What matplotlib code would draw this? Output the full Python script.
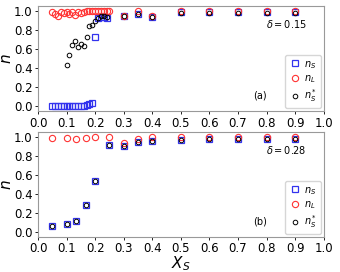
import numpy as np
import matplotlib.pyplot as plt

# panel (a), delta = 0.15
xa_s = [0.05, 0.06, 0.07, 0.08, 0.09, 0.10, 0.11, 0.12, 0.13, 0.14, 0.15, 0.16, 0.17, 0.18, 0.19,
        0.20, 0.21, 0.22, 0.23, 0.24, 0.30, 0.35, 0.40, 0.50, 0.60, 0.70, 0.80, 0.90]
na_s = [0.0, 0.0, 0.0, 0.0, 0.0, 0.0, 0.0, 0.0, 0.0, 0.0, 0.0, 0.005, 0.01, 0.02, 0.03,
        0.72, 0.92, 0.93, 0.93, 0.92, 0.95, 0.97, 0.93, 0.99, 0.99, 0.99, 0.99, 0.99]
xa_l = [0.05, 0.06, 0.07, 0.08, 0.09, 0.10, 0.11, 0.12, 0.13, 0.14, 0.15, 0.16, 0.17, 0.18, 0.19,
        0.20, 0.21, 0.22, 0.23, 0.24, 0.25, 0.30, 0.35, 0.40, 0.50, 0.60, 0.70, 0.80, 0.90]
na_l = [0.99, 0.97, 0.95, 0.99, 0.98, 0.99, 0.97, 0.99, 0.96, 0.99, 0.98, 0.99, 1.0, 1.0, 1.0,
        1.0, 1.0, 1.0, 1.0, 1.0, 1.0, 0.95, 1.0, 0.94, 1.0, 1.0, 1.0, 1.0, 1.0]
xa_st = [0.10, 0.11, 0.12, 0.13, 0.14, 0.15, 0.16, 0.17, 0.18, 0.19, 0.20, 0.21, 0.22, 0.23, 0.24,
         0.30, 0.35, 0.40, 0.50, 0.60, 0.70, 0.80, 0.90]
na_st = [0.43, 0.54, 0.64, 0.68, 0.62, 0.65, 0.63, 0.73, 0.84, 0.85, 0.89, 0.92, 0.94, 0.94, 0.93,
         0.95, 0.97, 0.93, 0.98, 0.98, 0.98, 0.98, 0.98]

# panel (b), delta = 0.28
xb = [0.05, 0.10, 0.133, 0.167, 0.20, 0.25, 0.30, 0.35, 0.40, 0.50, 0.60, 0.70, 0.80, 0.90]
nb_s = [0.06, 0.09, 0.12, 0.28, 0.54, 0.91, 0.90, 0.94, 0.95, 0.97, 0.98, 0.98, 0.98, 0.98]
nb_l = [0.99, 0.99, 0.98, 0.99, 1.0, 1.0, 0.93, 0.98, 1.0, 1.0, 1.0, 1.0, 1.0, 1.0]
nb_st = [0.06, 0.09, 0.12, 0.28, 0.54, 0.91, 0.90, 0.94, 0.95, 0.97, 0.98, 0.98, 0.98, 0.98]

fig, axes = plt.subplots(2, 1, figsize=(3.4, 2.72), dpi=100)
fig.subplots_adjust(left=0.112, right=0.952, top=0.978, bottom=0.129, hspace=0.2)

panels = [(axes[0], xa_s, na_s, xa_l, na_l, xa_st, na_st, r'$\delta = 0.15$', '(a)'),
          (axes[1], xb, nb_s, xb, nb_l, xb, nb_st, r'$\delta = 0.28$', '(b)')]

for ax, xs, ns, xl, nl, xst, nst, dlabel, tag in panels:
    ax.plot(xs, ns, 's', ms=4.2, mfc='none', mec='#3333ee', mew=0.9, label=r'$n_S$')
    ax.plot(xl, nl, 'o', ms=4.5, mfc='none', mec='#ff3333', mew=0.8, label=r'$n_L$')
    ax.plot(xst, nst, 'o', ms=3.3, mfc='none', mec='black', mew=0.7, label=r'$n_S^*$')
    ax.set_xlim(0, 1.0)
    ax.set_ylim(-0.05, 1.05)
    ax.set_xticks(np.arange(0, 1.01, 0.1))
    ax.set_yticks(np.arange(0, 1.01, 0.2))
    ax.tick_params(labelsize=8.5, length=2.5, width=0.6, pad=1.5)
    for s in ax.spines.values():
        s.set_color('#999999')
        s.set_linewidth(0.8)
    ax.set_ylabel(r'$n$', fontsize=11, labelpad=0)
    ax.text(0.94, 0.79, dlabel, transform=ax.transAxes, ha='right', fontsize=7)
    ax.text(0.776, 0.12, tag, transform=ax.transAxes, ha='center', fontsize=7)
    ax.legend(loc='lower right', fontsize=7, handletextpad=0.3, borderpad=0.4,
              labelspacing=0.25, handlelength=1.2, borderaxespad=0.3)

axes[1].set_xlabel(r'$X_S$', fontsize=11, labelpad=-1)

plt.savefig('out.png', dpi=100)
